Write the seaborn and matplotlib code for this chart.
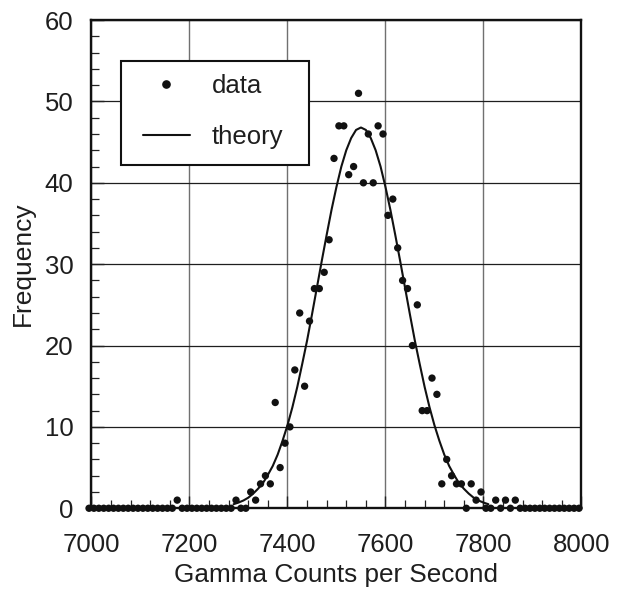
import numpy as np
import pandas as pd
import seaborn as sns
from matplotlib import pyplot as plt
from matplotlib.ticker import MultipleLocator
from matplotlib.lines import Line2D
from matplotlib.patches import Rectangle

# bin centres, 10 counts/s wide
bins = np.arange(6995, 8000, 10)
counts = [0,
          0, 0, 0, 0, 0, 0, 0, 0, 0, 0, 0, 0, 0, 0, 0, 0, 0,
          1,
          0, 0, 0, 0, 0, 0, 0, 0, 0, 0, 0,
          1, 0, 0,
          2, 1, 3, 4, 3, 13, 5, 8, 10, 17,
          24, 15, 23, 27, 27, 29, 33, 43, 47, 47,
          41, 42, 51, 40, 46, 40, 47, 46, 36, 38,
          32, 28, 27, 20, 25, 12, 12, 16, 14, 3,
          6, 4, 3, 3, 0, 3, 1, 2, 0, 0,
          1, 0, 1, 0, 1,
          0, 0, 0, 0, 0, 0, 0, 0, 0, 0, 0, 0, 0]

# theory curve
theory_x = [7290, 7300, 7310, 7320, 7330, 7340, 7350, 7360, 7370, 7380,
            7390, 7400, 7410, 7420, 7430, 7440, 7450, 7460, 7470, 7480,
            7490, 7500, 7510, 7520, 7530, 7540, 7550, 7560, 7570, 7580,
            7590, 7600, 7610, 7620, 7630, 7640, 7650, 7660, 7670, 7680,
            7690, 7700, 7710, 7720, 7730, 7740, 7750, 7760, 7770, 7780,
            7790, 7800, 7810]
theory_y = [0.5, 0.7, 0.95, 1.3, 1.8, 2.4, 3.1, 4.1, 5.2, 6.6,
            8.3, 10.2, 12.4, 14.9, 17.7, 20.6, 23.8, 27.1, 30.4, 33.6,
            36.7, 39.5, 42.0, 44.0, 45.5, 46.5, 46.8, 46.5, 45.5, 44.0,
            42.0, 39.5, 36.7, 33.6, 30.4, 27.1, 23.8, 20.6, 17.7, 14.9,
            12.4, 10.2, 8.3, 6.6, 5.2, 4.1, 3.1, 2.4, 1.8, 1.3,
            0.95, 0.7, 0.5]

df = pd.DataFrame({'x': bins, 'freq': counts})
th = pd.DataFrame({'x': theory_x, 'freq': theory_y})

sns.set_style('white')
plt.rcParams['font.family'] = ['Liberation Sans', 'DejaVu Sans']
txt = '#1e1e1e'
ink = '#111111'
fs = 18.5

fig = plt.figure(figsize=(6.21, 5.91), dpi=100)
ax = fig.add_axes([0.1473, 0.14, 0.789, 0.826])

sns.lineplot(data=th, x='x', y='freq', ax=ax, color=ink, lw=1.5, zorder=3)
sns.scatterplot(data=df, x='x', y='freq', ax=ax, color=ink, s=28,
                edgecolor='none', clip_on=False, zorder=4)

ax.set_xlim(7000, 8000)
ax.set_ylim(0, 60)
ax.xaxis.set_major_locator(MultipleLocator(200))
ax.xaxis.set_minor_locator(MultipleLocator(40))
ax.yaxis.set_major_locator(MultipleLocator(10))
ax.yaxis.set_minor_locator(MultipleLocator(2))
ax.grid(False)
ax.grid(True, axis='x', which='major', color='#707070', lw=1.0, zorder=1)
ax.grid(True, axis='y', which='major', color='#1e1e1e', lw=0.9, zorder=1)
ax.tick_params(which='both', direction='in', colors='#222222', labelcolor=txt,
               labelsize=fs, top=False, right=False, bottom=True, left=True)
ax.tick_params(which='major', length=9, width=1)
ax.tick_params(which='minor', length=5.5, width=0.9)
ax.tick_params(axis='x', pad=18)
ax.tick_params(axis='y', pad=13)
for s in ax.spines.values():
    s.set_color(ink)
    s.set_linewidth(1.7)

ax.set_xlabel('Gamma Counts per Second', fontsize=18.8, color=txt, labelpad=4)
ax.set_ylabel('Frequency', fontsize=19, color=txt, labelpad=7)

# legend box
ax.add_patch(Rectangle((0.0596, 0.7037), 0.3849, 0.2123, transform=ax.transAxes,
                       facecolor='white', edgecolor=ink, lw=1.5, zorder=5))
handles = [Line2D([], [], marker='o', ls='none', color=ink, ms=5.2),
           Line2D([], [], color=ink, lw=1.5)]
leg = ax.legend(handles, ['data', 'theory'], loc='upper left',
                bbox_to_anchor=(0.105, 0.8896), fontsize=fs, frameon=False,
                borderpad=0, labelspacing=1.04, handlelength=1.83,
                handletextpad=0.86, borderaxespad=0)
leg.set_zorder(6)
for t in leg.get_texts():
    t.set_color(txt)

fig.savefig('out.png', dpi=100)
